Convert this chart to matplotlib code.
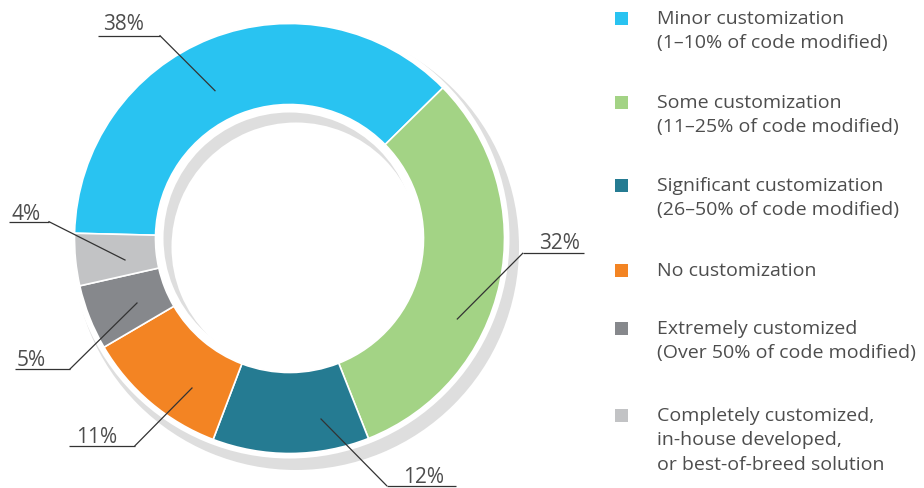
import matplotlib.pyplot as plt
from matplotlib.patches import Wedge, Rectangle

# data
shares = [38, 32, 12, 11, 5, 4]
pct_labels = ["38%", "32%", "12%", "11%", "5%", "4%"]
colors = ["#29C3F1", "#A3D385", "#257B92", "#F38423", "#86888C", "#C2C3C5"]
legend_labels = [
    ["Minor customization", "(1\u201310% of code modified)"],
    ["Some customization", "(11\u201325% of code modified)"],
    ["Significant customization", "(26\u201350% of code modified)"],
    ["No customization"],
    ["Extremely customized", "(Over 50% of code modified)"],
    ["Completely customized,", "in-house developed,", "or best-of-breed solution"],
]

plt.rcParams['font.family'] = ['Open Sans', 'DejaVu Sans']
TXT = "#4d4d4d"

fig = plt.figure(figsize=(9.24, 4.88), dpi=100)
ax = fig.add_axes([0, 0, 1, 1])

cx, cy = 289.5, 238.5
R, W = 215, 81

# shadow ring, offset down-right, then white halo around the donut
ax.add_patch(Wedge((cx + 6.5, cy + 8.5), 223, 0, 360, width=223 - 124.5,
                   facecolor="#DEDEDE", edgecolor="none", zorder=1))
ax.add_patch(Wedge((cx, cy), R + 5, 0, 360, width=R + 5 - (R - W - 8),
                   facecolor="white", edgecolor="none", zorder=2))

# y axis is inverted (pixel coords), so counterclock=True draws clockwise on screen
wedges, _ = ax.pie(shares, colors=colors, startangle=181.4, counterclock=True,
                   center=(cx, cy), radius=R,
                   wedgeprops=dict(width=W, edgecolor="white", linewidth=1.2, zorder=3))

ax.set_xlim(0, 924)
ax.set_ylim(488, 0)
ax.set_aspect("equal")
ax.axis("off")

# leader labels: text pos, underline x-range + y, anchor point inside wedge
label_layout = {
    "38%": dict(tx=103, ty=30, ux=(98, 160), uy=35.7, elbow=160, anchor=(215, 90.7)),
    "32%": dict(tx=539, ty=249.3, ux=(522.7, 584), uy=253.3, elbow=522.7, anchor=(457.3, 319)),
    "12%": dict(tx=403, ty=483.3, ux=(386.7, 455.7), uy=485.7, elbow=386.7, anchor=(321, 419)),
    "11%": dict(tx=76, ty=443.3, ux=(69, 135), uy=445.7, elbow=135, anchor=(192, 388)),
    "5%": dict(tx=17, ty=366, ux=(15, 70), uy=369, elbow=70, anchor=(137, 303)),
    "4%": dict(tx=11, ty=220, ux=(9, 49), uy=221.7, elbow=49, anchor=(125, 260)),
}
for lab in pct_labels:
    L = label_layout[lab]
    ax.text(L["tx"], L["ty"], lab, fontsize=15, color=TXT, ha="left", va="baseline", zorder=5)
    ax.plot(L["ux"], [L["uy"], L["uy"]], color="#333333", lw=0.9, zorder=5,
            solid_capstyle="butt")
    ax.plot([L["elbow"], L["anchor"][0]], [L["uy"], L["anchor"][1]],
            color="#333333", lw=0.9, zorder=5)

# legend
sq_centers = [18, 102, 185, 270, 328, 415]
for col, lines, yc in zip(colors, legend_labels, sq_centers):
    ax.add_patch(Rectangle((615, yc - 6.5), 13, 13, facecolor=col, edgecolor="none"))
    for i, line in enumerate(lines):
        ax.text(657, yc + 6 + i * 24.3, line, fontsize=14, color=TXT,
                ha="left", va="baseline")

fig.savefig("out.png", dpi=100)
